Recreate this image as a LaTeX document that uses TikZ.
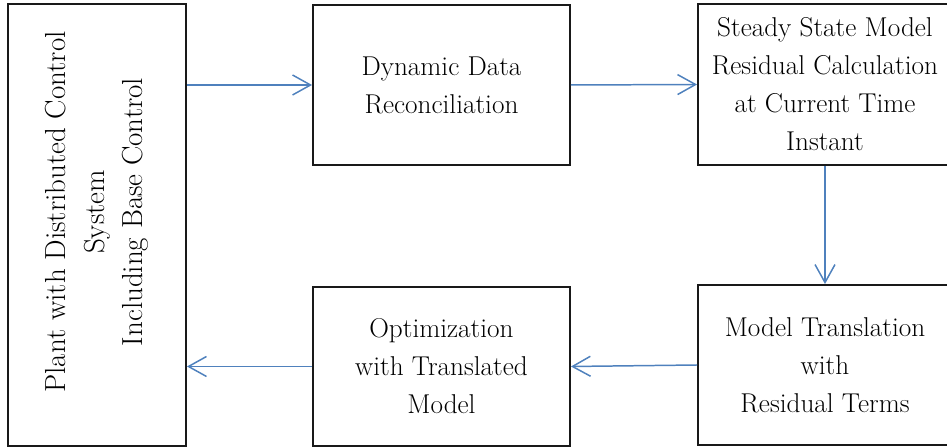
\documentclass[tikz,border=0pt]{standalone}
\usetikzlibrary{arrows.meta}
\definecolor{flowblue}{RGB}{79,129,189}
\tikzset{
  block/.style={draw=black!90, line width=1.1pt, minimum width=5.14cm, minimum height=3.2cm,
    align=center, inner sep=2pt, font=\fontsize{15.5}{21.6}\selectfont},
  flow/.style={draw=flowblue, line width=0.85pt, -{Straight Barb[length=0.36cm,width=0.4cm]}}
}

\begin{document}
\begin{tikzpicture}[x=0.02cm, y=-0.02cm]
\path[use as bounding box, clip] (0,0) rectangle (947,448);
% left box, text turned up
\node[block, minimum width=3.56cm, minimum height=8.84cm] (plant) at (97,225) {};
\node[rotate=90, align=center, font=\fontsize{16.5}{21.8}\selectfont] (plantText) at (97,212)
  {Plant with Distributed Control\\ System\\ Including Base Control};
% top row
\node[block] (ddr) at (441.5,85) {Dynamic Data\\ Reconciliation};
\node[block, minimum width=5.08cm, minimum height=3.22cm] (ss) at (825,84.5)
  {Steady State Model\\ Residual Calculation\\ at Current Time\\ Instant};
% bottom row
\node[block, minimum width=5.08cm] (mt) at (825,365) {Model Translation\\ with\\ Residual Terms};
\node[block, minimum height=3.18cm] (opt) at (441.5,366.5) {Optimization\\ with Translated\\ Model};
% flow
\draw[flow] (plant.east |- ddr.west) -- (ddr.west);
\draw[flow] (ddr.east) -- (ss.west);
\draw[flow] (ss.south) -- (mt.north);
\draw[flow] (mt.west) -- (opt.east);
\draw[flow] (opt.west) -- (plant.east |- opt.west);
\end{tikzpicture}
\end{document}
